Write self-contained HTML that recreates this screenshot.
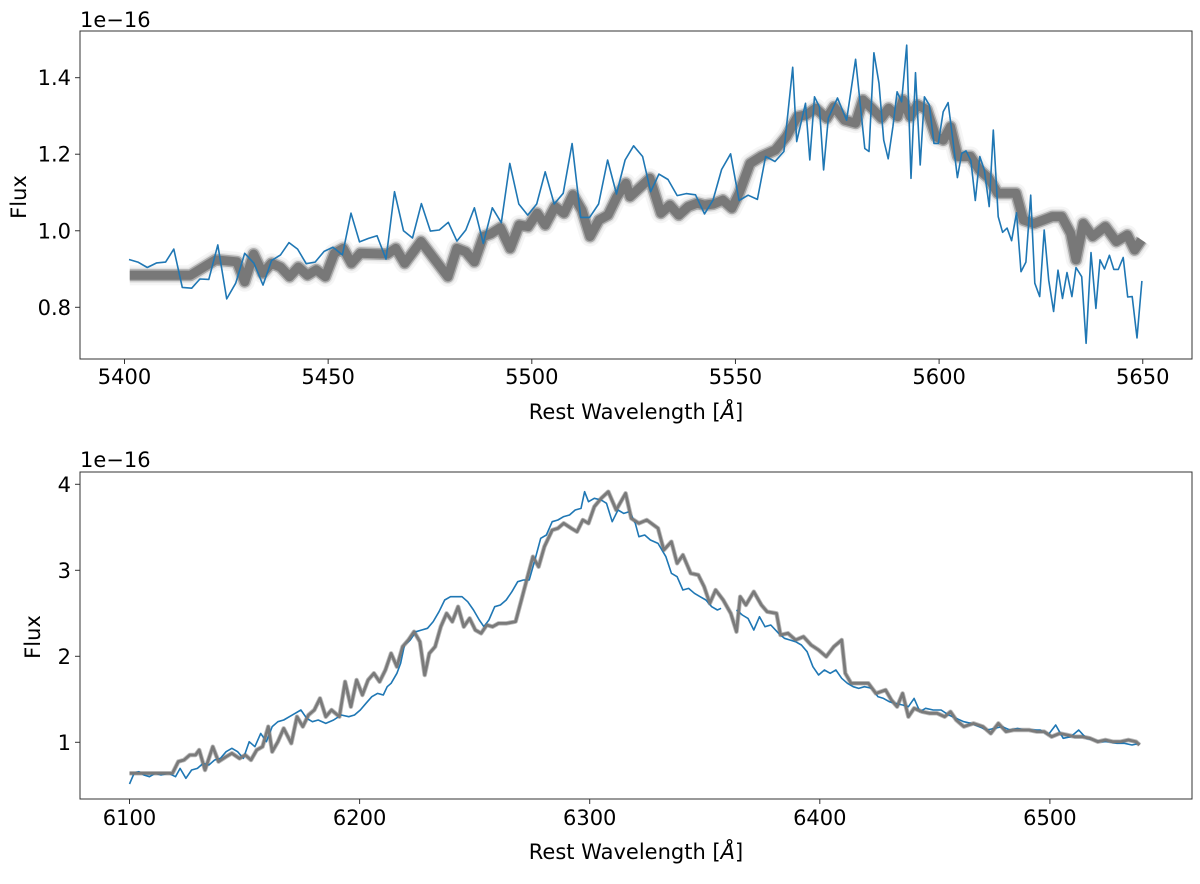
<!DOCTYPE html>
<html><head><meta charset="utf-8"><style>
html,body{margin:0;padding:0;background:#fff;}
svg text{font-family:"DejaVu Sans","Liberation Sans",sans-serif;fill:#000;}
</style></head><body>
<svg id="fig" width="1200" height="879" viewBox="0 0 1200 879" xmlns="http://www.w3.org/2000/svg"></svg>
<script>
// ---------- TOP PANEL DATA ----------
const topBlueWl = [5401.1,5403.3,5405.6,5407.9,5410.1,5412.1,5414.2,5416.5,5418.5,5420.7,5422.9,5425.1,5427.3,5429.5,5431.8,5434.0,5436.1,5438.3,5440.4,5442.5,5444.6,5446.8,5449.0,5451.2,5453.5,5455.6,5457.7,5459.9,5462.0,5464.2,5466.3,5468.5,5470.7,5472.9,5475.1,5477.3,5479.5,5481.6,5483.8,5485.9,5488.1,5490.3,5492.5,5494.6,5496.8,5499.0,5501.2,5503.3,5505.5,5507.7,5509.9,5512.0,5514.2,5516.4,5518.6,5520.8,5522.9,5525.0,5527.2,5529.2,5531.2,5533.45,5535.7,5537.9,5540.2,5542.4,5544.5,5546.6,5548.8,5550.9,5553.1,5555.4,5557.4,5559.7,5561.9,5564.05,5565.03,5567.2,5568.25,5569.4,5570.6,5571.65,5572.8,5575.05,5577.3,5579.5,5581.75,5582.8,5584.0,5585.25,5586.4,5587.5,5588.65,5589.7,5590.8,5592.05,5593.1,5594.2,5595.35,5596.4,5597.6,5598.75,5599.8,5601.0,5602.2,5603.4,5604.5,5605.55,5606.6,5607.8,5608.9,5610.0,5611.1,5612.3,5613.3,5614.5,5615.6,5616.7,5617.8,5619.0,5620.1,5621.3,5622.5,5623.5,5624.7,5625.8,5626.9,5628.1,5629.2,5630.3,5631.4,5632.6,5633.6,5635.0,5636.1,5637.3,5638.5,5639.5,5640.6,5641.8,5642.9,5644.0,5645.2,5646.3,5647.4,5648.6,5649.8];
const topBlueFlux = [0.925,0.918,0.904,0.916,0.918,0.952,0.852,0.850,0.874,0.873,0.963,0.822,0.863,0.941,0.915,0.858,0.922,0.937,0.969,0.952,0.914,0.918,0.946,0.957,0.937,1.046,0.971,0.980,0.987,0.926,1.102,1.000,0.981,1.071,0.999,1.002,1.022,0.973,1.002,1.060,0.967,1.060,1.021,1.176,1.070,1.041,1.070,1.154,1.070,1.098,1.228,1.035,1.035,1.070,1.185,1.096,1.185,1.222,1.194,1.102,1.148,1.134,1.092,1.097,1.094,1.044,1.080,1.160,1.201,1.079,1.093,1.082,1.194,1.181,1.207,1.427,1.233,1.333,1.185,1.350,1.324,1.159,1.294,1.347,1.289,1.448,1.215,1.207,1.465,1.385,1.237,1.188,1.272,1.363,1.337,1.485,1.137,1.413,1.172,1.350,1.329,1.228,1.228,1.311,1.335,1.237,1.139,1.202,1.209,1.183,1.079,1.194,1.159,1.063,1.263,1.037,0.996,1.007,0.974,1.047,0.893,0.918,1.093,0.863,0.828,1.002,0.871,0.789,0.897,0.823,0.891,0.828,0.904,0.880,0.706,0.943,0.797,0.924,0.900,0.936,0.899,0.899,0.930,0.827,0.828,0.720,0.869];
const topModelWl = [5401.3,5416.2,5422.4,5427.6,5429.5,5431.7,5433.9,5436.1,5438.3,5440.5,5442.7,5444.9,5447.1,5449.3,5451.5,5453.7,5455.7,5457.9,5464.5,5466.6,5468.8,5472.8,5479.4,5481.6,5483.8,5485.9,5488.1,5489.9,5492.3,5494.7,5496.9,5499.1,5501.3,5503.3,5505.7,5507.9,5510.1,5512.3,5514.3,5516.5,5518.7,5520.9,5523.1,5524.1,5529.0,5531.7,5533.9,5536.1,5538.4,5540.6,5542.4,5544.6,5546.9,5549.1,5550.9,5553.6,5556.3,5559.8,5562.5,5565.2,5567.4,5569.7,5572.4,5574.2,5576.8,5579.5,5581.3,5583.5,5585.8,5587.6,5589.8,5591.1,5592.9,5594.7,5597.0,5599.2,5601.0,5602.8,5604.6,5607.7,5609.9,5612.2,5614.4,5618.9,5620.7,5623.3,5625.6,5627.8,5630.1,5632.3,5633.6,5635.4,5637.7,5640.8,5643.5,5646.2,5648.0,5649.7];
const topModelFlux = [0.884,0.884,0.924,0.919,0.867,0.939,0.889,0.915,0.905,0.880,0.905,0.884,0.898,0.880,0.941,0.954,0.915,0.941,0.939,0.954,0.915,0.972,0.880,0.954,0.945,0.919,0.985,0.992,1.008,0.954,1.015,1.011,1.046,1.015,1.063,1.046,1.094,1.054,0.985,1.028,1.041,1.089,1.124,1.089,1.137,1.046,1.067,1.041,1.063,1.072,1.067,1.070,1.080,1.059,1.098,1.176,1.194,1.211,1.246,1.298,1.303,1.320,1.294,1.324,1.289,1.281,1.342,1.320,1.294,1.320,1.298,1.342,1.298,1.329,1.316,1.246,1.237,1.272,1.194,1.194,1.159,1.137,1.098,1.098,1.028,1.019,1.028,1.037,1.037,0.993,0.924,1.019,0.985,1.011,0.972,0.989,0.950,0.976];
const topXTicks = [5400,5450,5500,5550,5600,5650];
const topYTicks = [0.8,1.0,1.2,1.4];
const topYLabels = ["0.8","1.0","1.2","1.4"];

// ---------- BOTTOM PANEL DATA ----------
const botBlueWl = [6100.0,6102.0,6104.0,6106.2,6108.7,6111.2,6113.7,6117.0,6120.0,6122.0,6124.5,6127.0,6129.5,6132.0,6134.5,6137.0,6139.5,6142.0,6144.5,6147.0,6149.5,6152.0,6154.5,6157.0,6159.5,6162.0,6164.5,6167.0,6169.5,6172.0,6174.5,6177.0,6179.5,6182.0,6185.3,6188.7,6192.0,6195.3,6197.8,6200.3,6202.8,6205.3,6207.8,6210.3,6212.0,6213.7,6216.2,6217.8,6219.5,6222.0,6224.5,6227.0,6229.5,6232.0,6234.5,6237.0,6239.5,6242.0,6244.5,6247.0,6249.5,6252.0,6254.0,6256.2,6258.7,6261.2,6263.7,6266.2,6268.7,6271.2,6273.7,6276.2,6278.7,6281.2,6283.7,6286.2,6288.7,6291.2,6293.7,6296.2,6297.8,6299.5,6302.0,6305.0,6307.3,6309.8,6312.3,6314.8,6317.3,6319.8,6321.4,6323.9,6326.4,6329.7,6333.1,6335.5,6338.0,6340.5,6343.0,6345.5,6348.0,6350.5,6353.0,6355.5,6357.1,null,6363.8,6366.3,6368.8,6371.3,6373.8,6376.2,6378.7,6382.1,6384.6,6387.0,6389.5,6392.0,6394.5,6397.0,6399.5,6402.0,6404.5,6407.0,6409.5,6412.0,6414.5,6416.9,6419.4,6422.8,6425.2,6427.7,6430.2,6432.7,6436.0,6438.5,6441.0,6443.5,6446.0,6449.3,6452.7,6456.0,6459.3,6462.6,6465.9,6469.3,6472.6,6475.9,6479.2,6482.6,6485.9,6489.2,6492.5,6495.8,6499.2,6502.5,6505.8,6509.1,6512.5,6515.8,6519.1,6522.4,6525.7,6529.1,6532.4,6535.7,6539.0];
const botBlueFlux = [0.515,0.639,0.658,0.620,0.600,0.639,0.620,0.639,0.600,0.697,0.581,0.678,0.697,0.755,0.736,0.794,0.813,0.891,0.930,0.891,0.813,1.007,0.949,1.104,1.007,1.182,1.240,1.259,1.298,1.337,1.375,1.279,1.240,1.259,1.220,1.259,1.317,1.298,1.317,1.375,1.453,1.530,1.569,1.550,1.647,1.686,1.802,1.918,2.131,2.189,2.286,2.306,2.325,2.403,2.519,2.655,2.693,2.693,2.693,2.635,2.538,2.422,2.344,2.422,2.577,2.596,2.655,2.751,2.868,2.887,2.887,3.120,3.372,3.410,3.565,3.585,3.624,3.643,3.701,3.720,3.914,3.798,3.837,3.817,3.779,3.565,3.701,3.662,3.682,3.546,3.391,3.410,3.352,3.313,3.158,2.965,2.926,2.771,2.790,2.732,2.693,2.655,2.577,2.538,2.558,null,2.538,2.480,2.441,2.306,2.461,2.344,2.364,2.267,2.209,2.189,2.170,2.131,2.054,1.879,1.782,1.841,1.802,1.841,1.744,1.686,1.647,1.627,1.647,1.627,1.531,1.511,1.472,1.453,1.434,1.414,1.511,1.356,1.395,1.375,1.375,1.317,1.279,1.240,1.220,1.182,1.143,1.162,1.182,1.143,1.162,1.143,1.143,1.143,1.085,1.201,1.046,1.065,1.143,1.046,1.027,1.007,1.007,0.988,0.988,0.969,0.988];
const botModelWl = [6100.0,6118.7,6121.2,6123.7,6126.2,6128.7,6130.3,6132.8,6136.2,6138.7,6142.0,6144.5,6147.8,6150.3,6152.8,6155.3,6157.8,6160.3,6162.0,6164.5,6167.0,6170.3,6172.8,6175.3,6177.8,6180.3,6182.8,6185.3,6187.8,6191.2,6193.7,6196.2,6198.7,6201.2,6203.7,6206.2,6208.7,6211.2,6213.7,6216.2,6218.7,6221.2,6223.7,6226.2,6228.3,6230.3,6232.8,6235.3,6237.8,6240.3,6242.8,6245.3,6247.8,6250.3,6252.8,6255.3,6257.8,6260.3,6263.7,6267.8,6270.3,6272.8,6275.3,6277.8,6280.3,6283.7,6286.2,6288.7,6292.0,6294.5,6297.0,6299.5,6302.0,6305.0,6308.1,6311.5,6315.6,6318.1,6321.4,6324.8,6329.7,6332.2,6335.5,6338.0,6340.5,6343.9,6347.2,6349.7,6352.2,6354.7,6358.0,6361.3,6363.8,6365.4,6367.9,6371.3,6374.6,6377.1,6381.2,6382.9,6386.2,6389.5,6392.9,6396.2,6399.5,6402.8,6406.1,6409.5,6411.1,6413.6,6417.8,6421.1,6424.4,6428.6,6431.1,6433.6,6436.0,6438.5,6441.0,6444.4,6447.7,6451.0,6454.3,6456.8,6459.3,6462.6,6466.8,6470.9,6474.3,6477.6,6480.9,6484.2,6487.5,6490.9,6494.2,6497.5,6500.8,6504.2,6507.5,6510.8,6514.1,6517.4,6520.8,6524.1,6527.4,6530.7,6534.1,6537.4,6539.0];
const botModelFlux = [0.639,0.639,0.775,0.794,0.852,0.852,0.910,0.678,0.949,0.775,0.833,0.872,0.813,0.852,0.794,0.910,0.949,1.182,0.891,1.007,1.162,0.988,1.298,1.182,1.317,1.375,1.511,1.298,1.375,1.298,1.705,1.414,1.724,1.550,1.724,1.802,1.705,1.841,2.034,1.879,2.112,2.189,2.286,2.170,1.782,2.034,2.112,2.344,2.499,2.403,2.577,2.344,2.441,2.306,2.267,2.364,2.344,2.383,2.383,2.403,2.655,2.906,3.158,3.042,3.275,3.468,3.488,3.546,3.488,3.449,3.585,3.546,3.740,3.837,3.914,3.701,3.895,3.604,3.546,3.585,3.488,3.236,3.333,3.081,3.178,2.965,2.945,2.810,2.616,2.771,2.655,2.499,2.286,2.693,2.596,2.751,2.596,2.519,2.499,2.248,2.267,2.189,2.228,2.131,2.073,1.996,2.112,2.189,1.802,1.686,1.686,1.686,1.569,1.608,1.492,1.414,1.569,1.298,1.395,1.356,1.337,1.337,1.298,1.356,1.259,1.182,1.220,1.182,1.104,1.220,1.124,1.143,1.143,1.143,1.124,1.124,1.065,1.104,1.085,1.065,1.065,1.046,1.007,1.027,1.007,1.007,1.027,1.007,0.969];
const botXTicks = [6100,6200,6300,6400,6500];
const botYTicks = [1,2,3,4];

const NS = "http://www.w3.org/2000/svg";
const svg = document.getElementById('fig');
function mk(tag, attrs, parent){
  const e = document.createElementNS(NS, tag);
  for (const k in attrs) e.setAttribute(k, attrs[k]);
  (parent||svg).appendChild(e);
  return e;
}

const P1 = {L:80,R:1192,T:31,B:359, x0:5400,px0:124.5,sx:4.073, y0:0.8,py0:307.3,sy:382.7};
const P2 = {L:80,R:1192,T:472,B:799, x0:6100,px0:129.5,sx:2.301, y0:1,py0:742.3,sy:86.0};
function X(p,v){return p.px0+(v-p.x0)*p.sx;}
function Y(p,v){return p.py0-(v-p.y0)*p.sy;}
function pathFrom(p, xs, ys){
  let d=""; let pen=false;
  for(let i=0;i<xs.length;i++){
    if(xs[i]===null||ys[i]===null){pen=false;continue;}
    d += (pen?"L":"M")+X(p,xs[i]).toFixed(1)+","+Y(p,ys[i]).toFixed(1);
    pen=true;
  }
  return d;
}

const defs = mk('defs',{});
const c1 = mk('clipPath',{id:'clip1'},defs); mk('rect',{x:P1.L,y:P1.T,width:P1.R-P1.L,height:P1.B-P1.T},c1);
const c2 = mk('clipPath',{id:'clip2'},defs); mk('rect',{x:P2.L,y:P2.T,width:P2.R-P2.L,height:P2.B-P2.T},c2);

function drawAxes(p, xt, xl, yt, yl, name, xlabelY, tickLabelY, fluxX, fluxY, expY){
  const g = mk('g',{});
  
  
  xt.forEach((v,i)=>{
    const x = X(p,v);
    const t = mk('line',{x1:x,x2:x,y1:p.B,y2:p.B+5,stroke:'#333','stroke-width':1},g);
    
    
    const lb = mk('text',{x:x,y:tickLabelY,'text-anchor':'middle','font-size':21},g);
    lb.textContent = xl[i];
    
    
  });
  yt.forEach((v,i)=>{
    const y = Y(p,v);
    const t = mk('line',{x1:p.L-5,x2:p.L,y1:y,y2:y,stroke:'#333','stroke-width':1},g);
    
    
    const lb = mk('text',{x:p.L-9,y:y+7.5,'text-anchor':'end','font-size':21},g);
    lb.textContent = yl[i];
    
    
  });
  const xlab = mk('text',{x:(p.L+p.R)/2,y:xlabelY,'text-anchor':'middle','font-size':21},g);
  xlab.innerHTML = 'Rest Wavelength [<tspan font-style="italic">Å</tspan>]';
  
  
  const ylab = mk('text',{x:fluxX,y:fluxY,'text-anchor':'middle','font-size':21,transform:'rotate(-90 '+fluxX+' '+fluxY+')'},g);
  ylab.textContent = 'Flux';
  
  
  const ex = mk('text',{x:p.L,y:expY,'font-size':21},g);
  ex.textContent = '1e\u221216';
  
  
}

// ---- top panel ----
const gTop = mk('g',{'clip-path':'url(#clip1)'});


const dTopModel = pathFrom(P1, topModelWl, topModelFlux);
[[20,'#f5f5f5'],[15,'#e2e2e2'],[12,'#a8a8a8']].forEach(([w,c])=>{
  const h = mk('path',{d:dTopModel,fill:'none',stroke:c,'stroke-width':w,'stroke-linejoin':'round'},gTop);
  
  
});
const tm = mk('path',{d:dTopModel,fill:'none',stroke:'#787878','stroke-width':9,'stroke-linejoin':'round'},gTop);


const tb = mk('path',{d:pathFrom(P1, topBlueWl, topBlueFlux),fill:'none',stroke:'#1f77b4','stroke-width':1.6,'stroke-linejoin':'round'},gTop);


const f1 = mk('rect',{x:P1.L,y:P1.T,width:P1.R-P1.L,height:P1.B-P1.T,fill:'none',stroke:'#333','stroke-width':1});


drawAxes(P1, topXTicks, topXTicks.map(String), topYTicks, topYLabels, 'top', 419, 384, 26, 197, 27);

// ---- bottom panel ----
const gBot = mk('g',{'clip-path':'url(#clip2)'});


const dBotModel = pathFrom(P2, botModelWl, botModelFlux);
const bh = mk('path',{d:dBotModel,fill:'none',stroke:'#bbbbbb','stroke-width':4.5,'stroke-linejoin':'round'},gBot);


const bb = mk('path',{d:pathFrom(P2, botBlueWl, botBlueFlux),fill:'none',stroke:'#1f77b4','stroke-width':1.6,'stroke-linejoin':'round'},gBot);


const bm = mk('path',{d:dBotModel,fill:'none',stroke:'#7a7a7a','stroke-width':2.8,'stroke-linejoin':'round'},gBot);


const f2 = mk('rect',{x:P2.L,y:P2.T,width:P2.R-P2.L,height:P2.B-P2.T,fill:'none',stroke:'#333','stroke-width':1});


drawAxes(P2, botXTicks, botXTicks.map(String), botYTicks, botYTicks.map(String), 'bottom', 859, 825, 40, 637, 467);
</script>
</body></html>
